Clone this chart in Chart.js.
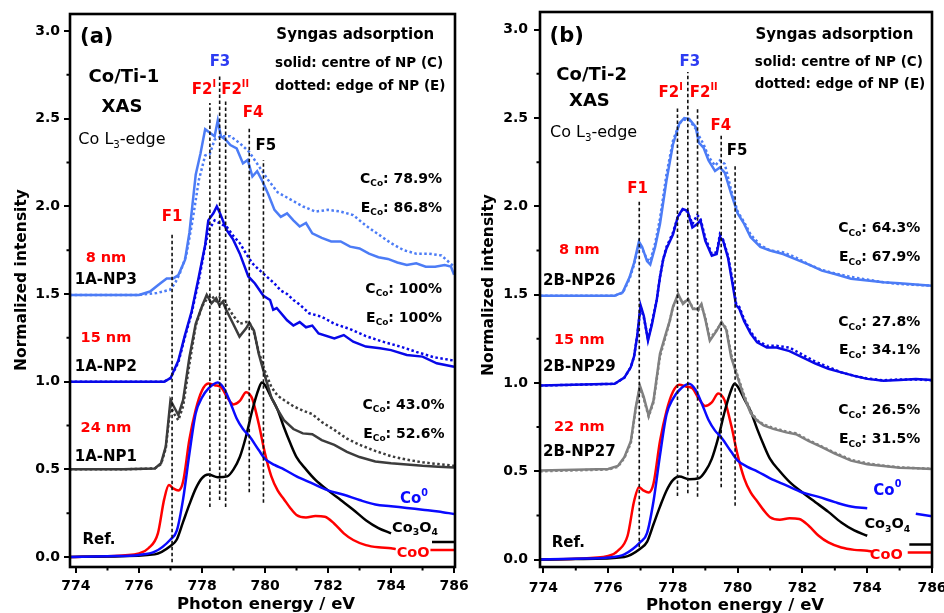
<!DOCTYPE html>
<html>
<head>
<meta charset="utf-8">
<script src="https://cdn.jsdelivr.net/npm/chart.js@4.4.1/dist/chart.umd.min.js"></script>
<style>
  html, body { margin: 0; padding: 0; background: #fff; }
  #wrap { position: relative; width: 944px; height: 613px; overflow: hidden; }
  .panel { position: absolute; top: 0; width: 472px; height: 613px; }
</style>
</head>
<body>
<div id="wrap">
  <div class="panel" style="left:0"><canvas id="chartA" width="472" height="613"></canvas></div>
  <div class="panel" style="left:472px"><canvas id="chartB" width="472" height="613"></canvas></div>
</div>
<script>
// --- Axis ticks ---
const xTicks = [774, 776, 778, 780, 782, 784, 786];
const xMinor = [775, 777, 779, 781, 783, 785];
const yTicks = [0, 0.5, 1.0, 1.5, 2.0, 2.5, 3.0];
const yMinor = [0.25, 0.75, 1.25, 1.75, 2.25, 2.75];

// --- Reference spectra (same in both panels) ---
const cooE = [773.8, 775.0, 776.0, 776.3, 776.6, 776.8, 776.95, 777.1, 777.25, 777.4, 777.6, 777.8, 778.0, 778.2, 778.4, 778.6, 778.8, 779.0, 779.2, 779.4, 779.5, 779.6, 779.8, 780.0, 780.2, 780.4, 780.6, 780.8, 781.0, 781.3, 781.6, 781.9, 782.2, 782.5, 782.8, 783.2, 783.6, 784.0, 784.15, 784.6, 785.25, 786.0];
const cooI = [0, 0.005, 0.02, 0.05, 0.135, 0.33, 0.41, 0.39, 0.38, 0.43, 0.67, 0.84, 0.95, 0.99, 0.98, 0.97, 0.91, 0.87, 0.89, 0.94, 0.93, 0.90, 0.76, 0.59, 0.46, 0.38, 0.33, 0.28, 0.24, 0.226, 0.234, 0.23, 0.19, 0.135, 0.097, 0.068, 0.055, 0.05, 0.045, null, 0.04, 0.04];

const co0E = [773.8, 775.0, 776.0, 776.5, 777.0, 777.2, 777.4, 777.6, 777.8, 778.0, 778.2, 778.5, 778.7, 778.9, 779.1, 779.3, 779.5, 779.8, 780.0, 780.3, 780.6, 781.0, 781.5, 782.0, 782.5, 783.0, 783.5, 784.0, 784.5, 785.0, 785.5, 786.0];
const co0I = [0, 0.005, 0.012, 0.03, 0.1, 0.15, 0.33, 0.59, 0.82, 0.91, 0.96, 0.995, 0.96, 0.88, 0.79, 0.73, 0.69, 0.61, 0.56, 0.525, 0.5, 0.46, 0.42, 0.38, 0.355, 0.325, 0.3, 0.29, 0.28, 0.27, 0.26, 0.245];

const co3o4E = [773.8, 775.0, 776.5, 777.0, 777.2, 777.4, 777.6, 777.8, 778.0, 778.2, 778.5, 778.8, 779.0, 779.2, 779.4, 779.6, 779.8, 779.9, 780.0, 780.2, 780.4, 780.6, 780.8, 781.0, 781.3, 781.6, 782.0, 782.4, 782.8, 783.2, 783.6, 784.0, 784.6, 785.3, 786.0];
const co3o4I = [0, 0.003, 0.015, 0.063, 0.1, 0.2, 0.3, 0.39, 0.45, 0.47, 0.455, 0.46, 0.5, 0.57, 0.69, 0.84, 0.96, 0.995, 0.98, 0.91, 0.84, 0.74, 0.65, 0.57, 0.5, 0.44, 0.38, 0.325, 0.27, 0.21, 0.165, 0.135, null, 0.085, 0.085];

// --- Panel (a): Co/Ti-1 ---
const np1E = [773.8, 775.5, 776.5, 776.7, 776.85, 777.0, 777.1, 777.25, 777.4, 777.6, 777.8, 778.0, 778.15, 778.3, 778.45, 778.55, 778.66, 778.77, 778.98, 779.19, 779.4, 779.5, 779.65, 779.8, 780.0, 780.2, 780.4, 780.6, 780.9, 781.2, 781.5, 781.8, 782.2, 782.6, 783.0, 783.5, 784.0, 784.5, 785.0, 785.5, 786.0];
const np1C = [0.5, 0.5, 0.505, 0.535, 0.63, 0.895, 0.86, 0.81, 0.895, 1.14, 1.33, 1.43, 1.495, 1.447, 1.476, 1.437, 1.456, 1.409, 1.333, 1.257, 1.304, 1.335, 1.29, 1.16, 1.03, 0.91, 0.84, 0.78, 0.73, 0.705, 0.70, 0.667, 0.64, 0.60, 0.57, 0.545, 0.535, 0.528, 0.52, 0.515, 0.51];
const np1D = [0.5, 0.5, 0.505, 0.53, 0.62, 0.86, 0.82, 0.78, 0.86, 1.10, 1.32, 1.43, 1.47, 1.49, 1.46, 1.48, 1.47, 1.44, 1.38, 1.33, 1.34, 1.34, 1.28, 1.17, 1.06, 0.97, 0.92, 0.895, 0.86, 0.835, 0.815, 0.77, 0.725, 0.675, 0.64, 0.605, 0.575, 0.555, 0.54, 0.53, 0.52];

const np2E = [773.8, 776.0, 776.8, 777.0, 777.25, 777.45, 777.67, 777.9, 778.1, 778.2, 778.36, 778.47, 778.57, 778.78, 778.99, 779.2, 779.47, 779.68, 779.95, 780.16, 780.26, 780.37, 780.7, 780.9, 781.1, 781.3, 781.5, 781.7, 782.2, 782.5, 782.8, 783.2, 783.65, 784.0, 784.5, 785.0, 785.45, 786.0];
const np2C = [1.0, 1.0, 1.0, 1.02, 1.12, 1.26, 1.40, 1.60, 1.78, 1.92, 1.96, 2.0, 1.96, 1.865, 1.81, 1.73, 1.60, 1.56, 1.49, 1.466, 1.41, 1.42, 1.35, 1.32, 1.34, 1.31, 1.32, 1.275, 1.247, 1.266, 1.228, 1.20, 1.19, 1.18, 1.152, 1.143, 1.105, 1.085];
const np2dE = [773.8, 776.0, 776.8, 777.0, 777.25, 777.45, 777.67, 777.9, 778.1, 778.2, 778.4, 778.6, 778.8, 779.0, 779.2, 779.4, 779.6, 779.8, 780.05, 780.3, 780.5, 780.7, 780.9, 781.1, 781.4, 781.8, 782.2, 782.7, 783.2, 783.7, 784.3, 784.8, 785.35, 786.0];
const np2D = [1.0, 1.0, 1.0, 1.02, 1.11, 1.25, 1.39, 1.58, 1.77, 1.86, 1.92, 1.90, 1.88, 1.83, 1.79, 1.73, 1.675, 1.64, 1.60, 1.56, 1.52, 1.50, 1.466, 1.44, 1.39, 1.37, 1.33, 1.30, 1.26, 1.23, 1.20, 1.17, 1.14, 1.12];

const np3E = [773.8, 776.0, 776.35, 776.67, 776.88, 777.09, 777.25, 777.46, 777.6, 777.8, 777.95, 778.1, 778.25, 778.4, 778.5, 778.6, 778.75, 778.9, 779.1, 779.3, 779.45, 779.6, 779.75, 779.9, 780.1, 780.3, 780.5, 780.7, 780.9, 781.1, 781.3, 781.5, 781.8, 782.1, 782.4, 782.7, 783.0, 783.3, 783.6, 783.9, 784.2, 784.5, 784.8, 785.1, 785.4, 785.7, 785.9, 786.0];
const np3C = [1.495, 1.495, 1.514, 1.56, 1.589, 1.589, 1.608, 1.694, 1.85, 2.18, 2.30, 2.44, 2.42, 2.40, 2.49, 2.40, 2.38, 2.35, 2.33, 2.245, 2.265, 2.17, 2.20, 2.15, 2.07, 1.98, 1.94, 1.96, 1.92, 1.885, 1.905, 1.846, 1.82, 1.80, 1.80, 1.77, 1.76, 1.73, 1.71, 1.70, 1.68, 1.665, 1.675, 1.656, 1.656, 1.665, 1.656, 1.61];
const np3dE = [773.8, 776.0, 776.3, 776.56, 776.98, 777.14, 777.3, 777.5, 777.7, 777.9, 778.1, 778.25, 778.4, 778.6, 778.9, 779.2, 779.5, 779.8, 780.1, 780.4, 780.8, 781.2, 781.6, 782.0, 782.4, 782.8, 783.2, 783.6, 784.0, 784.4, 784.8, 785.2, 785.6, 786.0];
const np3D = [1.495, 1.495, 1.50, 1.505, 1.524, 1.56, 1.62, 1.72, 1.92, 2.15, 2.29, 2.30, 2.38, 2.40, 2.40, 2.36, 2.31, 2.23, 2.15, 2.08, 2.04, 2.0, 1.97, 1.98, 1.97, 1.95, 1.89, 1.84, 1.79, 1.75, 1.73, 1.73, 1.72, 1.656];

// --- Panel (b): Co/Ti-2 ---
const np27E = [773.9, 776.0, 776.3, 776.5, 776.7, 776.85, 776.98, 777.1, 777.25, 777.4, 777.6, 777.8, 777.9, 778.0, 778.16, 778.31, 778.47, 778.62, 778.78, 778.88, 779.0, 779.14, 779.35, 779.5, 779.65, 779.8, 780.0, 780.2, 780.4, 780.6, 780.8, 781.1, 781.5, 781.8, 782.2, 782.6, 783.0, 783.5, 784.0, 784.5, 785.0, 785.5, 786.0];
const np27C = [0.504, 0.513, 0.53, 0.58, 0.67, 0.86, 0.985, 0.92, 0.815, 0.90, 1.165, 1.29, 1.35, 1.43, 1.504, 1.447, 1.475, 1.419, 1.419, 1.447, 1.36, 1.239, 1.296, 1.345, 1.30, 1.145, 1.03, 0.92, 0.83, 0.787, 0.76, 0.74, 0.72, 0.71, 0.67, 0.636, 0.60, 0.56, 0.54, 0.53, 0.52, 0.517, 0.513];
const np27D = [0.50, 0.51, 0.525, 0.575, 0.66, 0.85, 0.975, 0.91, 0.81, 0.89, 1.15, 1.28, 1.35, 1.43, 1.49, 1.455, 1.47, 1.425, 1.41, 1.44, 1.37, 1.25, 1.30, 1.34, 1.31, 1.16, 1.04, 0.93, 0.84, 0.79, 0.765, 0.745, 0.725, 0.715, 0.675, 0.64, 0.605, 0.565, 0.545, 0.532, 0.522, 0.518, 0.514];

const np29E = [773.9, 776.2, 776.5, 776.7, 776.8, 776.9, 777.0, 777.1, 777.23, 777.35, 777.5, 777.6, 777.7, 777.8, 778.0, 778.15, 778.3, 778.45, 778.6, 778.75, 778.85, 779.0, 779.2, 779.35, 779.45, 779.55, 779.7, 779.85, 779.95, 780.05, 780.2, 780.4, 780.6, 780.9, 781.2, 781.6, 782.0, 782.4, 782.8, 783.2, 783.6, 784.0, 784.5, 785.0, 785.5, 786.0];
const np29C = [0.985, 0.995, 1.03, 1.09, 1.15, 1.27, 1.44, 1.38, 1.24, 1.33, 1.47, 1.60, 1.70, 1.76, 1.84, 1.94, 1.985, 1.975, 1.88, 1.90, 1.92, 1.805, 1.72, 1.73, 1.825, 1.805, 1.71, 1.55, 1.44, 1.42, 1.35, 1.28, 1.23, 1.20, 1.20, 1.18, 1.145, 1.11, 1.08, 1.06, 1.04, 1.023, 1.013, 1.017, 1.023, 1.017];
const np29D = [0.985, 0.995, 1.03, 1.09, 1.15, 1.27, 1.43, 1.37, 1.25, 1.34, 1.47, 1.60, 1.70, 1.77, 1.85, 1.94, 1.98, 1.97, 1.90, 1.95, 1.93, 1.82, 1.73, 1.74, 1.84, 1.81, 1.72, 1.57, 1.45, 1.43, 1.36, 1.29, 1.24, 1.21, 1.21, 1.20, 1.16, 1.12, 1.09, 1.06, 1.04, 1.025, 1.015, 1.02, 1.02, 1.015];

const np26E = [773.9, 776.2, 776.45, 776.66, 776.8, 776.95, 777.05, 777.2, 777.3, 777.45, 777.6, 777.8, 778.0, 778.2, 778.35, 778.5, 778.7, 778.8, 778.95, 779.1, 779.3, 779.45, 779.6, 779.8, 780.0, 780.2, 780.4, 780.7, 781.0, 781.4, 781.8, 782.2, 782.6, 783.0, 783.5, 784.0, 784.5, 785.0, 785.5, 786.0];
const np26C = [1.494, 1.494, 1.513, 1.598, 1.68, 1.80, 1.77, 1.69, 1.67, 1.77, 1.90, 2.145, 2.35, 2.47, 2.50, 2.495, 2.45, 2.36, 2.33, 2.26, 2.20, 2.22, 2.19, 2.07, 1.96, 1.90, 1.825, 1.77, 1.75, 1.73, 1.70, 1.67, 1.636, 1.617, 1.59, 1.58, 1.57, 1.564, 1.557, 1.55];
const np26D = [1.494, 1.494, 1.51, 1.59, 1.67, 1.78, 1.76, 1.70, 1.69, 1.79, 1.93, 2.18, 2.37, 2.47, 2.49, 2.49, 2.44, 2.40, 2.35, 2.28, 2.23, 2.26, 2.24, 2.09, 1.97, 1.91, 1.84, 1.78, 1.75, 1.74, 1.71, 1.67, 1.64, 1.62, 1.60, 1.585, 1.57, 1.56, 1.555, 1.55];

// --- Feature marker lines F1, F2I, F3, F2II, F4, F5 ---
const fA_x = [777.05, 778.25, 778.56, 778.75, 779.5, 779.95];
const fA_lo = [-0.03, 0.285, 0.325, 0.285, 0.37, 0.31];
const fA_hi = [1.84, 2.59, 2.755, 2.60, 2.455, 2.265];
const fB_x = [776.96, 778.14, 778.46, 778.76, 779.49, 779.92];
const fB_lo = [0.07, 0.36, 0.375, 0.356, 0.41, 0.305];
const fB_hi = [2.04, 2.56, 2.76, 2.56, 2.40, 2.24];

// --- Colours & fonts ---
const FONT = '"DejaVu Sans", "Liberation Sans", Arial, sans-serif';
const RED = '#ff0000';
const BLUE = '#0a0aff';
const NAVY = '#0808e8';
const LIGHT = '#4c7cf6';
const F3C = '#2d3cf2';

function pts(xs, ys) {
    return xs.map((x, i) => ({ x: x, y: ys[i] }));
}

function curve(xs, ys, color, dotted, smooth) {
    return {
        data: pts(xs, ys),
        borderColor: color,
        borderWidth: 2.5,
        borderDash: dotted ? [2.5, 2.5] : [],
        pointRadius: 0,
        tension: 0,
        cubicInterpolationMode: smooth ? 'monotone' : 'default',
        spanGaps: false
    };
}

function markerLines(xs, lo, hi) {
    return xs.map((x, i) => ({
        data: [{ x: x, y: lo[i] }, { x: x, y: hi[i] }],
        borderColor: '#111',
        borderWidth: 1.6,
        borderDash: [3.5, 2.5],
        pointRadius: 0
    }));
}

// Co0 in panel (b) has a short break near 784.5 eV
const co0IB = co0I.map((v, i) => (co0E[i] > 784.1 && co0E[i] < 785.2) ? null : v);

// --- Text labels: data coords, parts = [text, 'sub' | 'sup'] ---
function nameLabels(x, rows) {
    return rows.map(r => ({ x: x, y: r[1], parts: [[r[0]]], size: r[2], color: r[3] }));
}
function compLabels(x, rows) {
    return rows.map(r => ({ x: x, y: r[1], parts: [[r[0]], ['Co', 'sub'], [': ' + r[2]]], size: 14, align: 'right' }));
}

const labelsA = [
    { x: 774.13, y: 2.96, parts: [['(a)']], size: 21, align: 'left' },
    { x: 780.36, y: 2.978, parts: [['Syngas adsorption']], size: 15, align: 'left' },
    { x: 780.32, y: 2.812, parts: [['solid: centre of NP (C)']], size: 13.5, align: 'left' },
    { x: 780.32, y: 2.684, parts: [['dotted: edge of NP (E)']], size: 13.5, align: 'left' },
    { x: 775.52, y: 2.733, parts: [['Co/Ti-1']], size: 18 },
    { x: 775.46, y: 2.567, parts: [['XAS']], size: 18 },
    { x: 775.46, y: 2.379, parts: [['Co L'], ['3', 'sub'], ['-edge']], size: 16, weight: 'normal' },
    { x: 778.57, y: 2.824, parts: [['F3']], size: 15, color: F3C },
    { x: 778.06, y: 2.664, parts: [['F2'], ['I', 'sup']], size: 15, color: RED },
    { x: 779.05, y: 2.664, parts: [['F2'], ['II', 'sup']], size: 15, color: RED },
    { x: 779.62, y: 2.533, parts: [['F4']], size: 15, color: RED },
    { x: 780.03, y: 2.345, parts: [['F5']], size: 15 },
    { x: 777.05, y: 1.94, parts: [['F1']], size: 15, color: RED },
    ...compLabels(785.62, [['C', 2.156, '78.9%'], ['E', 1.991, '86.8%'], ['C', 1.529, '100%'], ['E', 1.363, '100%']]),
    ...compLabels(785.7, [['C', 0.867, '43.0%'], ['E', 0.70, '52.6%']]),
    ...nameLabels(774.95, [['8 nm', 1.706, 14.5, RED], ['1A-NP3', 1.58, 15], ['15 nm', 1.249, 14.5, RED], ['1A-NP2', 1.084, 15], ['24 nm', 0.736, 14.5, RED], ['1A-NP1', 0.570, 15]]),
    { x: 774.73, y: 0.097, parts: [['Ref.']], size: 15 },
    { x: 784.73, y: 0.331, parts: [['Co'], ['0', 'sup']], size: 15, color: BLUE },
    { x: 784.76, y: 0.165, parts: [['Co'], ['3', 'sub'], ['O'], ['4', 'sub']], size: 14.5 },
    { x: 784.70, y: 0.023, parts: [['CoO']], size: 14.5, color: RED }
];

const labelsB = [
    { x: 774.19, y: 2.96, parts: [['(b)']], size: 21, align: 'left' },
    { x: 780.55, y: 2.971, parts: [['Syngas adsorption']], size: 15, align: 'left' },
    { x: 780.53, y: 2.813, parts: [['solid: centre of NP (C)']], size: 13.5, align: 'left' },
    { x: 780.53, y: 2.688, parts: [['dotted: edge of NP (E)']], size: 13.5, align: 'left' },
    { x: 775.49, y: 2.739, parts: [['Co/Ti-2']], size: 18 },
    { x: 775.42, y: 2.592, parts: [['XAS']], size: 18 },
    { x: 775.55, y: 2.416, parts: [['Co L'], ['3', 'sub'], ['-edge']], size: 16, weight: 'normal' },
    { x: 778.52, y: 2.818, parts: [['F3']], size: 15, color: F3C },
    { x: 777.93, y: 2.643, parts: [['F2'], ['I', 'sup']], size: 15, color: RED },
    { x: 778.95, y: 2.643, parts: [['F2'], ['II', 'sup']], size: 15, color: RED },
    { x: 779.48, y: 2.456, parts: [['F4']], size: 15, color: RED },
    { x: 779.98, y: 2.315, parts: [['F5']], size: 15 },
    { x: 776.91, y: 2.10, parts: [['F1']], size: 15, color: RED },
    ...compLabels(785.64, [['C', 1.873, '64.3%'], ['E', 1.709, '67.9%'], ['C', 1.341, '27.8%'], ['E', 1.183, '34.1%'], ['C', 0.843, '26.5%'], ['E', 0.679, '31.5%']]),
    ...nameLabels(775.11, [['8 nm', 1.749, 14.5, RED], ['2B-NP26', 1.579, 15], ['15 nm', 1.239, 14.5, RED], ['2B-NP29', 1.087, 15], ['22 nm', 0.747, 14.5, RED], ['2B-NP27', 0.606, 15]]),
    { x: 774.77, y: 0.091, parts: [['Ref.']], size: 15 },
    { x: 784.62, y: 0.39, parts: [['Co'], ['0', 'sup']], size: 15, color: BLUE },
    { x: 784.62, y: 0.198, parts: [['Co'], ['3', 'sub'], ['O'], ['4', 'sub']], size: 14.5 },
    { x: 784.59, y: 0.023, parts: [['CoO']], size: 14.5, color: RED }
];

// --- Rich text with sub/superscripts ---
function partFont(p, size, weight) {
    const s = p[1] ? size * 0.64 : size;
    return `${weight} ${s}px ${FONT}`;
}

function drawRich(ctx, lab) {
    const size = lab.size;
    const weight = lab.weight || 'bold';
    let total = 0;
    const widths = lab.parts.map(p => {
        ctx.font = partFont(p, size, weight);
        const w = ctx.measureText(p[0]).width;
        total += w;
        return w;
    });
    let x = lab.px;
    if (!lab.align) x -= total / 2;
    else if (lab.align === 'right') x -= total;
    ctx.fillStyle = lab.color || '#000';
    ctx.textAlign = 'left';
    ctx.textBaseline = 'middle';
    lab.parts.forEach((p, i) => {
        ctx.font = partFont(p, size, weight);
        let dy = 0;
        if (p[1] === 'sub') dy = size * 0.33;
        if (p[1] === 'sup') dy = -size * 0.38;
        ctx.fillText(p[0], x, lab.py + dy);
        x += widths[i];
    });
}

// --- Frame, minor ticks, axis titles, labels ---
const decor = {
    id: 'decor',
    afterDraw(chart, args, opts) {
        const ctx = chart.ctx;
        const area = chart.chartArea;
        const xs = chart.scales.x;
        const ys = chart.scales.y;
        ctx.save();

        // minor ticks
        ctx.strokeStyle = '#000';
        ctx.lineWidth = 2;
        ctx.beginPath();
        xMinor.forEach(v => {
            const px = xs.getPixelForValue(v);
            ctx.moveTo(px, area.bottom);
            ctx.lineTo(px, area.bottom + 3.5);
        });
        yMinor.forEach(v => {
            const py = ys.getPixelForValue(v);
            ctx.moveTo(area.left, py);
            ctx.lineTo(area.left - 3.5, py);
        });
        ctx.stroke();

        // frame
        ctx.lineWidth = 2.6;
        ctx.strokeRect(area.left, area.top, area.right - area.left, area.bottom - area.top);

        // labels
        opts.labels.forEach(l => {
            drawRich(ctx, Object.assign({}, l, { px: xs.getPixelForValue(l.x), py: ys.getPixelForValue(l.y) }));
        });

        // axis titles
        ctx.fillStyle = '#000';
        ctx.textAlign = 'center';
        ctx.textBaseline = 'alphabetic';
        ctx.font = `bold 16.5px ${FONT}`;
        ctx.fillText('Photon energy / eV', opts.xTitle[0], opts.xTitle[1]);
        ctx.translate(opts.yTitle[0], opts.yTitle[1]);
        ctx.rotate(-Math.PI / 2);
        ctx.textBaseline = 'middle';
        ctx.font = `bold 15.5px ${FONT}`;
        ctx.fillText('Normalized intensity', 0, 0);
        ctx.restore();
    }
};

function makeChart(id, p) {
    const tickFont = { family: FONT, size: 14, weight: 'bold' };
    return new Chart(document.getElementById(id), {
        type: 'line',
        data: { datasets: p.datasets },
        options: {
            responsive: false,
            animation: false,
            devicePixelRatio: 1,
            layout: { padding: { top: p.top, right: p.right, left: 0, bottom: 0 } },
            plugins: {
                legend: { display: false },
                tooltip: { enabled: false },
                decor: { labels: p.labels, xTitle: p.xTitle, yTitle: p.yTitle }
            },
            scales: {
                x: {
                    type: 'linear',
                    min: p.xMin,
                    max: p.xMax,
                    afterBuildTicks: s => { s.ticks = xTicks.map(v => ({ value: v })); },
                    afterFit: s => { s.height = 613 - p.bottom; s.paddingLeft = 0; s.paddingRight = 0; },
                    grid: { drawOnChartArea: false, drawTicks: true, tickLength: 6, color: '#000', lineWidth: 2 },
                    border: { display: false },
                    ticks: { font: tickFont, color: '#000', padding: p.xPad, maxRotation: 0, autoSkip: false, callback: v => v }
                },
                y: {
                    type: 'linear',
                    min: p.yMin,
                    max: p.yMax,
                    afterBuildTicks: s => { s.ticks = yTicks.map(v => ({ value: v })); },
                    afterFit: s => { s.width = p.left; s.paddingTop = 0; s.paddingBottom = 0; },
                    grid: { drawOnChartArea: false, drawTicks: true, tickLength: 6, color: '#000', lineWidth: 2 },
                    border: { display: false },
                    ticks: { font: tickFont, color: '#000', padding: p.yPad, autoSkip: false, callback: v => v.toFixed(1) }
                }
            }
        },
        plugins: [decor]
    });
}

const refs = (co0Vals) => [
    curve(co0E, co0Vals, BLUE, false, true),
    curve(co3o4E, co3o4I, '#000', false, true),
    curve(cooE, cooI, RED, false, true)
];

makeChart('chartA', {
    left: 70, top: 14, right: 17, bottom: 567,
    xMin: 773.81, xMax: 786.03, yMin: -0.057, yMax: 3.097,
    xPad: 5, yPad: 4,
    xTitle: [266, 609], yTitle: [22, 280],
    labels: labelsA,
    datasets: [
        ...markerLines(fA_x, fA_lo, fA_hi),
        curve(np3E, np3C, LIGHT, false),
        curve(np2E, np2C, NAVY, false),
        curve(np1E, np1C, '#3c3c3c', false),
        curve(np3dE, np3D, LIGHT, true),
        curve(np2dE, np2D, NAVY, true),
        curve(np1E, np1D, '#3c3c3c', true),
        ...refs(co0I)
    ]
});

makeChart('chartB', {
    left: 68, top: 12, right: 12, bottom: 567,
    xMin: 773.895, xMax: 786.0, yMin: -0.042, yMax: 3.1,
    xPad: 7, yPad: 6,
    xTitle: [263, 610], yTitle: [17, 285],
    labels: labelsB,
    datasets: [
        ...markerLines(fB_x, fB_lo, fB_hi),
        curve(np26E, np26C, LIGHT, false),
        curve(np29E, np29C, NAVY, false),
        curve(np27E, np27C, '#808080', false),
        curve(np26E, np26D, LIGHT, true),
        curve(np29E, np29D, NAVY, true),
        curve(np27E, np27D, '#808080', true),
        ...refs(co0IB)
    ]
});
</script>
</body>
</html>
